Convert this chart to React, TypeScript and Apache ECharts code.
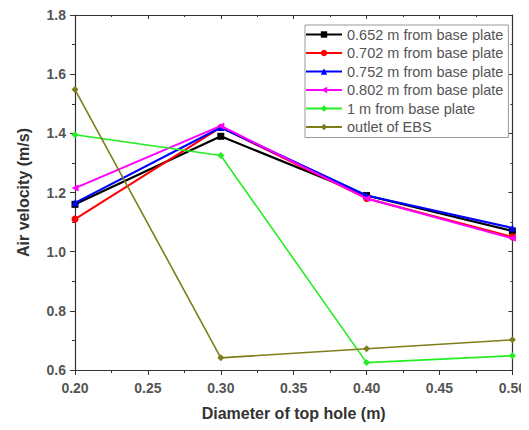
import React, { useEffect, useRef } from "react";
import * as echarts from "echarts";

const diameters = [0.2, 0.3, 0.4, 0.5];
const seriesNames = [
  "0.652 m from base plate",
  "0.702 m from base plate",
  "0.752 m from base plate",
  "0.802 m from base plate",
  "1 m from base plate",
  "outlet of EBS",
];
const s0652 = [1.16, 1.39, 1.19, 1.07];
const s0702 = [1.11, 1.42, 1.18, 1.05];
const s0752 = [1.165, 1.42, 1.19, 1.08];
const s0802 = [1.215, 1.425, 1.18, 1.045];
const s1m = [1.395, 1.325, 0.625, 0.648];
const sOutlet = [1.548, 0.641, 0.672, 0.702];

const colors = ["#000000", "#ff0000", "#0000ff", "#ff00ff", "#22ee22", "#7d7d1a"];
const symbols = ["rect", "circle", "triangle", "triangle", "diamond", "diamond"];
const rotates = [0, 0, 0, 90, 0, 0];
const widths = [2.2, 2, 2.2, 2, 1.6, 1.6];

const FONT = "Liberation Sans, Arial, sans-serif";

export default function App() {
  const ref = useRef<HTMLDivElement>(null);
  useEffect(() => {
    if (!ref.current) return;
    const chart = echarts.init(ref.current, null, { renderer: "svg" });
    const all = [s0652, s0702, s0752, s0802, s1m, sOutlet];
    const axisLine = { show: true, lineStyle: { color: "#333", width: 1.2 } };
    chart.setOption({
      animation: false,
      backgroundColor: "#ffffff",
      grid: { left: 75, right: 12, top: 15, bottom: 60 },
      legend: {
        orient: "vertical",
        left: 305,
        top: 25,
        borderColor: "#999",
        borderWidth: 1,
        padding: [2, 5, 3, 0],
        itemGap: 3.5,
        itemWidth: 36,
        itemHeight: 8,
        textStyle: { fontFamily: FONT, fontSize: 14.5, color: "#555", lineHeight: 15 },
        data: seriesNames,
      },
      xAxis: [
        {
          type: "value",
          min: 0.2,
          max: 0.5,
          interval: 0.05,
          name: "Diameter of top hole (m)",
          nameLocation: "middle",
          nameGap: 35,
          nameTextStyle: { fontFamily: FONT, fontWeight: "bold", fontSize: 16, color: "#333" },
          axisLine,
          axisTick: { show: true, length: 5, inside: false, lineStyle: { color: "#333" } },
          minorTick: { show: true, splitNumber: 2, length: 3, lineStyle: { color: "#333" } },
          splitLine: { show: false },
          axisLabel: {
            formatter: (v: number) => v.toFixed(2),
            fontFamily: FONT,
            fontWeight: "bold",
            fontSize: 14,
            color: "#555",
            margin: 11,
          },
        },
        {
          type: "value",
          position: "top",
          min: 0.2,
          max: 0.5,
          interval: 0.05,
          axisLine,
          axisTick: { show: true, inside: true, length: 4, lineStyle: { color: "#333" } },
          minorTick: { show: true, splitNumber: 2, length: 2 },
          axisLabel: { show: false },
          splitLine: { show: false },
        },
      ],
      yAxis: [
        {
          type: "value",
          min: 0.6,
          max: 1.8,
          interval: 0.2,
          name: "Air velocity (m/s)",
          nameLocation: "middle",
          nameGap: 44,
          nameTextStyle: { fontFamily: FONT, fontWeight: "bold", fontSize: 16, color: "#333" },
          axisLine,
          axisTick: { show: true, length: 5, lineStyle: { color: "#333" } },
          minorTick: { show: true, splitNumber: 2, length: 3, lineStyle: { color: "#333" } },
          splitLine: { show: false },
          axisLabel: {
            formatter: (v: number) => v.toFixed(1),
            fontFamily: FONT,
            fontWeight: "bold",
            fontSize: 14,
            color: "#555",
            margin: 9,
          },
        },
        {
          type: "value",
          position: "right",
          min: 0.6,
          max: 1.8,
          interval: 0.2,
          axisLine,
          axisTick: { show: true, inside: true, length: 4, lineStyle: { color: "#333" } },
          minorTick: { show: true, splitNumber: 2, length: 2 },
          axisLabel: { show: false },
          splitLine: { show: false },
        },
      ],
      series: seriesNames.map((name, i) => ({
        name,
        type: "line",
        xAxisIndex: 0,
        yAxisIndex: 0,
        data: diameters.map((d, j) => [d, all[i][j]]),
        symbol: symbols[i],
        symbolRotate: rotates[i],
        symbolSize: 7,
        showAllSymbol: true,
        itemStyle: { color: colors[i] },
        lineStyle: { color: colors[i], width: widths[i] },
        z: 2 + i,
      })),
    });
    return () => chart.dispose();
  }, []);
  return <div ref={ref} style={{ width: 529, height: 430, margin: -8 }} />;
}
